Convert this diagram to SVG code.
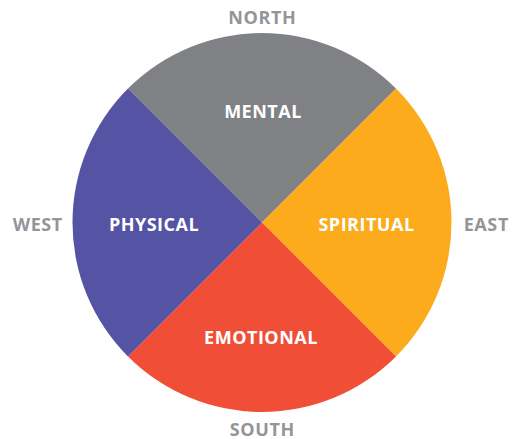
<svg xmlns="http://www.w3.org/2000/svg" width="516" height="439" viewBox="0 0 516 439">
<style>
.dir{font-family:"Open Sans","Liberation Sans",sans-serif;font-weight:700;font-size:18px;letter-spacing:0.6px;fill:#939598;text-anchor:middle}
.lbl{font-family:"Open Sans","Liberation Sans",sans-serif;font-weight:700;font-size:18px;letter-spacing:0.5px;fill:#ffffff;text-anchor:middle}
</style>
<rect width="516" height="439" fill="#ffffff"/>
<g id="mental">
<path d="M262,222.5 L128,88.5 A189.5,189.5 0 0 1 396,88.5 Z" fill="#808184"/>
<text class="lbl" x="263" y="118">MENTAL</text>
</g>
<g id="spiritual">
<path d="M262,222.5 L396,88.5 A189.5,189.5 0 0 1 396,356.5 Z" fill="#fbab1b"/>
<text class="lbl" x="366.5" y="231">SPIRITUAL</text>
</g>
<g id="emotional">
<path d="M262,222.5 L396,356.5 A189.5,189.5 0 0 1 128,356.5 Z" fill="#f04e37"/>
<text class="lbl" x="261" y="344">EMOTIONAL</text>
</g>
<g id="physical">
<path d="M262,222.5 L128,356.5 A189.5,189.5 0 0 1 128,88.5 Z" fill="#5453a4"/>
<text class="lbl" x="154" y="231">PHYSICAL</text>
</g>
<g id="directions">
<text class="dir" x="262.3" y="24">NORTH</text>
<text class="dir" x="262.3" y="436">SOUTH</text>
<text class="dir" x="37.8" y="231">WEST</text>
<text class="dir" x="486.3" y="231">EAST</text>
</g>
<g id="connectors"/>
</svg>
